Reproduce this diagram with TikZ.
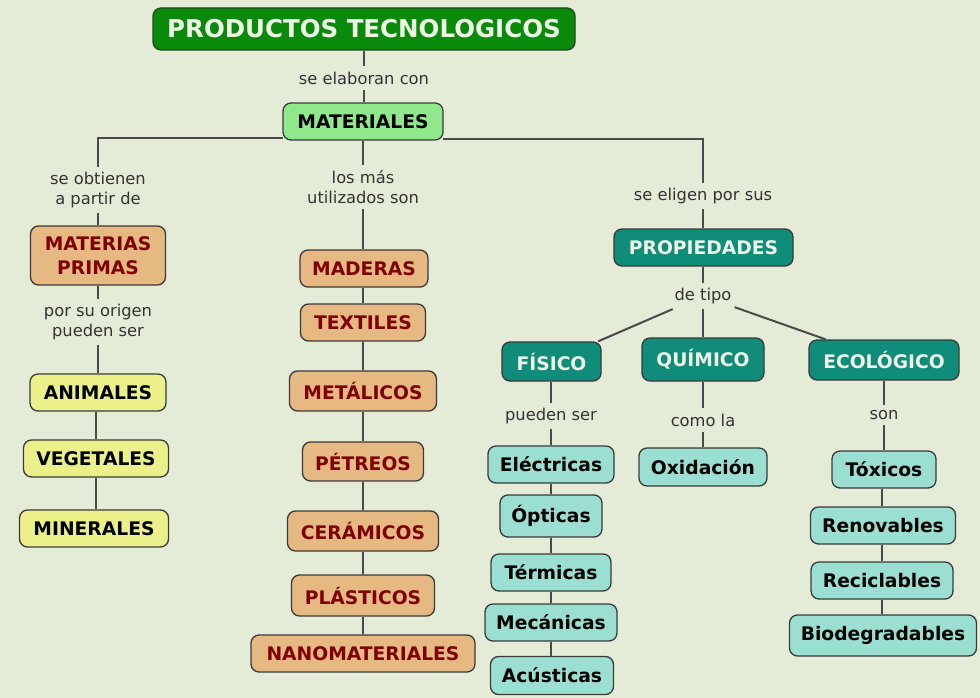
\documentclass[tikz,border=0pt]{standalone}
\usepackage{fontspec}
\setmainfont{DejaVu Sans}
\definecolor{bg}{HTML}{E4ECD8}
\definecolor{tgreen}{HTML}{0A8A0A}
\definecolor{tgreenb}{HTML}{1F4A1F}
\definecolor{lgreen}{HTML}{90E88C}
\definecolor{tan}{HTML}{E6B882}
\definecolor{darkred}{HTML}{800000}
\definecolor{yell}{HTML}{ECF08A}
\definecolor{teal}{HTML}{108C7A}
\definecolor{lteal}{HTML}{9BDFD2}
\definecolor{bord}{HTML}{3A3A3A}
\definecolor{conncol}{HTML}{4A4A4A}
\definecolor{labcol}{HTML}{333333}
\definecolor{wtxt}{HTML}{EEF4E6}
\tikzset{
  box/.style={draw=bord, line width=1.3pt, rounded corners=8pt, inner sep=0pt, align=center,
    font=\fontsize{18.7}{24}\selectfont\bfseries},
  titlebox/.style={box, fill=tgreen, draw=tgreenb, text=wtxt, font=\fontsize{24.5}{27}\selectfont\bfseries},
  matbox/.style={box, fill=lgreen, text=black},
  tanbox/.style={box, fill=tan, text=darkred},
  yelbox/.style={box, fill=yell, text=black},
  tealbox/.style={box, fill=teal, text=wtxt},
  ltealbox/.style={box, fill=lteal, text=black},
  lab/.style={text=labcol, align=center, inner xsep=3pt, inner ysep=5pt,
    font=\fontsize{16.3}{20}\selectfont},
  conn/.style={draw=conncol, line width=2pt}
}
\begin{document}
\begin{tikzpicture}[x=1pt,y=-1pt]
\fill[bg] (0,0) rectangle (980,698);
\useasboundingbox (0,0) rectangle (980,698);
% boxes
\node[titlebox, minimum width=422pt, minimum height=42pt] (title) at (364,29) {PRODUCTOS TECNOLOGICOS};
\node[matbox, minimum width=160pt, minimum height=37pt] (mat) at (363,121.5) {MATERIALES};
\node[tanbox, minimum width=135pt, minimum height=59pt] (mp) at (98,255.5) {MATERIAS\\PRIMAS};
\node[yelbox, minimum width=136pt, minimum height=37pt] (anim) at (98,392.5) {ANIMALES};
\node[yelbox, minimum width=145pt, minimum height=37pt] (veg) at (96,458.5) {VEGETALES};
\node[yelbox, minimum width=149pt, minimum height=37pt] (mine) at (94,528.5) {MINERALES};
\node[tanbox, minimum width=128pt, minimum height=37pt] (mad) at (364,268.5) {MADERAS};
\node[tanbox, minimum width=125pt, minimum height=37pt] (tex) at (363,322.5) {TEXTILES};
\node[tanbox, minimum width=147pt, minimum height=40pt] (met) at (363,391) {METÁLICOS};
\node[tanbox, minimum width=121pt, minimum height=39pt] (pet) at (363,461.5) {PÉTREOS};
\node[tanbox, minimum width=151pt, minimum height=40pt] (cer) at (363,531) {CERÁMICOS};
\node[tanbox, minimum width=143pt, minimum height=41pt] (pla) at (363,595.5) {PLÁSTICOS};
\node[tanbox, minimum width=224pt, minimum height=37pt] (nano) at (363,653.5) {NANOMATERIALES};
\node[tealbox, minimum width=179pt, minimum height=37pt] (prop) at (703.5,247.5) {PROPIEDADES};
\node[tealbox, minimum width=99pt, minimum height=39pt] (fis) at (551.5,361.5) {FÍSICO};
\node[tealbox, minimum width=122pt, minimum height=43pt] (qui) at (703,359.5) {QUÍMICO};
\node[tealbox, minimum width=150pt, minimum height=40pt] (eco) at (884,360) {ECOLÓGICO};
\node[ltealbox, minimum width=126pt, minimum height=37pt] (ele) at (551,464.5) {Eléctricas};
\node[ltealbox, minimum width=102pt, minimum height=42pt] (opt) at (551,516) {Ópticas};
\node[ltealbox, minimum width=120pt, minimum height=37pt] (ter) at (551,572.5) {Térmicas};
\node[ltealbox, minimum width=132pt, minimum height=37pt] (mec) at (551,622.5) {Mecánicas};
\node[ltealbox, minimum width=123pt, minimum height=38pt] (acu) at (552,675.5) {Acústicas};
\node[ltealbox, minimum width=128pt, minimum height=38pt] (oxi) at (703,467) {Oxidación};
\node[ltealbox, minimum width=104pt, minimum height=37pt] (tox) at (884,469.5) {Tóxicos};
\node[ltealbox, minimum width=145pt, minimum height=37pt] (ren) at (883,525.5) {Renovables};
\node[ltealbox, minimum width=142pt, minimum height=37pt] (rec) at (882,580.5) {Reciclables};
\node[ltealbox, minimum width=187pt, minimum height=41pt] (bio) at (883,635.5) {Biodegradables};
% labels
\node[lab] (l1) at (364,78) {se elaboran con};
\node[lab] (l2) at (98,190) {se obtienen\\a partir de};
\node[lab] (l3) at (363,187) {los más\\utilizados son};
\node[lab] (l4) at (703,196) {se eligen por sus};
\node[lab] (l5) at (98,322) {por su origen\\pueden ser};
\node[lab] (l6) at (703,296) {de tipo};
\node[lab] (l7) at (551,416) {pueden ser};
\node[lab] (l8) at (703,420) {como la};
\node[lab] (l9) at (884,415) {son};
% coordinates for branches
\coordinate (mL) at (283,138);
\coordinate (kL) at (98,138);
\coordinate (mR) at (443,139);
\coordinate (kR) at (703,139);
% connectors
\draw[conn] (title.south -| l1) -- (l1.north);
\draw[conn] (l1.south) -- (l1.south |- mat.north);
\draw[conn] (mL) -- (kL) -- (l2.north);
\draw[conn] (l2.south) -- (l2.south |- mp.north);
\draw[conn] (mat.south) -- (mat.south |- l3.north);
\draw[conn] (l3.south) -- (l3.south |- mad.north);
\draw[conn] (mR) -- (kR) -- (l4.north);
\draw[conn] (l4.south) -- (l4.south |- prop.north);
\draw[conn] (mp.south -| l5) -- (l5.north);
\draw[conn] (l5.south) -- (l5.south |- anim.north);
\draw[conn] (anim.south -| veg) -- (veg.north);
\draw[conn] (veg.south) -- (veg.south |- mine.north);
\draw[conn] (mad.south -| tex) -- (tex.north);
\draw[conn] (tex.south) -- (tex.south |- met.north);
\draw[conn] (met.south) -- (met.south |- pet.north);
\draw[conn] (pet.south) -- (pet.south |- cer.north);
\draw[conn] (cer.south) -- (cer.south |- pla.north);
\draw[conn] (pla.south) -- (pla.south |- nano.north);
\draw[conn] (prop.south -| l6) -- (l6.north);
\draw[conn] (l6) -- (fis);
\draw[conn] (l6.south) -- (l6.south |- qui.north);
\draw[conn] (l6) -- (eco);
\draw[conn] (fis.south -| l7) -- (l7.north);
\draw[conn] (l7.south) -- (l7.south |- ele.north);
\draw[conn] (ele.south) -- (ele.south |- opt.north);
\draw[conn] (opt.south) -- (opt.south |- ter.north);
\draw[conn] (ter.south) -- (ter.south |- mec.north);
\draw[conn] (mec.south) -- (mec.south |- acu.north);
\draw[conn] (qui.south) -- (qui.south |- l8.north);
\draw[conn] (l8.south) -- (l8.south |- oxi.north);
\draw[conn] (eco.south) -- (eco.south |- l9.north);
\draw[conn] (l9.south) -- (l9.south |- tox.north);
\draw[conn] (tox.south -| rec) -- (ren.north -| rec);
\draw[conn] (ren.south -| rec) -- (rec.north);
\draw[conn] (rec.south) -- (rec.south |- bio.north);
\end{tikzpicture}
\end{document}
